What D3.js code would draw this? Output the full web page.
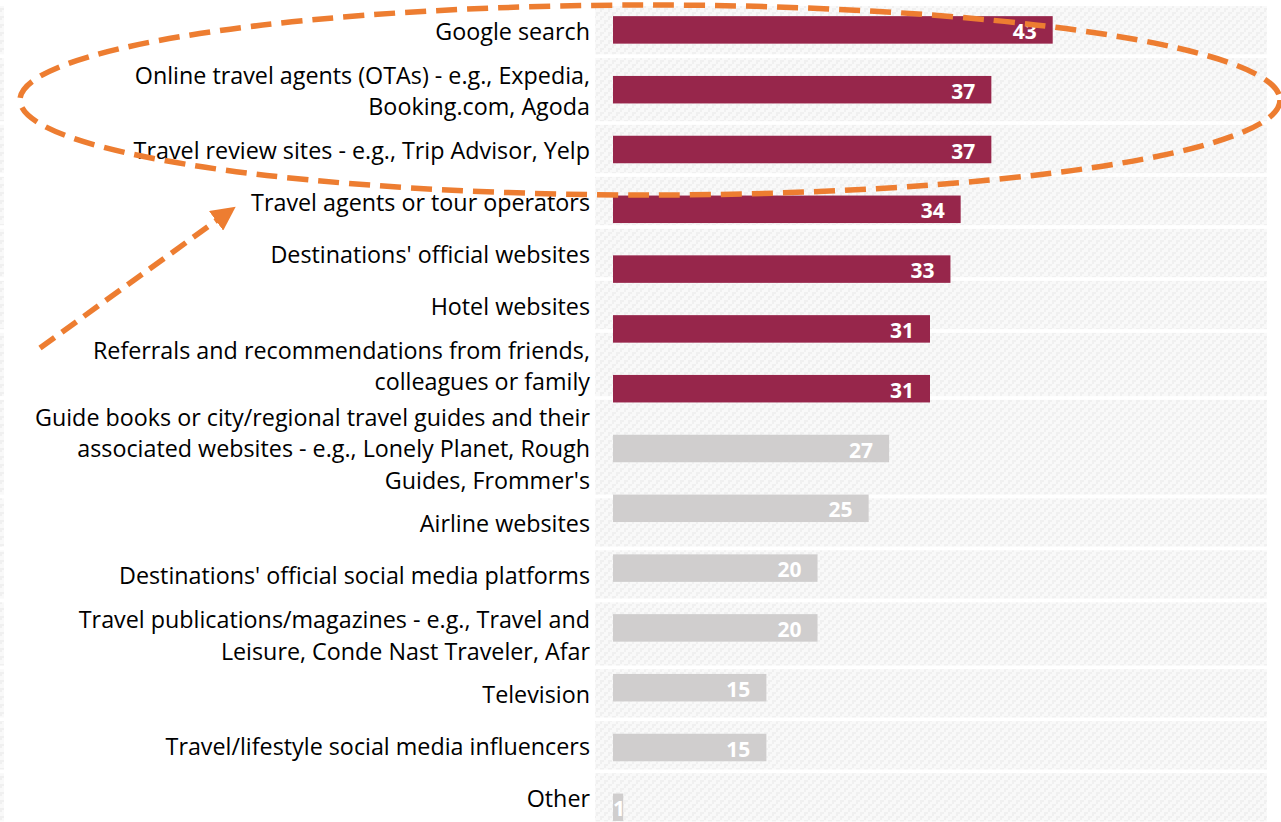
<!DOCTYPE html>
<html><head><meta charset="utf-8">
<script src="https://cdn.jsdelivr.net/npm/d3@7/dist/d3.min.js"></script>
<style>html,body{margin:0;padding:0;background:#fff;}svg{display:block;}</style>
</head><body>
<script>
// ---------- data ----------
const categories = [
  "Google search",
  "Online travel agents (OTAs) - e.g., Expedia, Booking.com, Agoda",
  "Travel review sites - e.g., Trip Advisor, Yelp",
  "Travel agents or tour operators",
  "Destinations' official websites",
  "Hotel websites",
  "Referrals and recommendations from friends, colleagues or family",
  "Guide books or city/regional travel guides and their associated websites - e.g., Lonely Planet, Rough Guides, Frommer's",
  "Airline websites",
  "Destinations' official social media platforms",
  "Travel publications/magazines - e.g., Travel and Leisure, Conde Nast Traveler, Afar",
  "Television",
  "Travel/lifestyle social media influencers",
  "Other"
];
const categoryLines = [
  ["Google search"],
  ["Online travel agents (OTAs) - e.g., Expedia,", "Booking.com, Agoda"],
  ["Travel review sites - e.g., Trip Advisor, Yelp"],
  ["Travel agents or tour operators"],
  ["Destinations' official websites"],
  ["Hotel websites"],
  ["Referrals and recommendations from friends,", "colleagues or family"],
  ["Guide books or city/regional travel guides and their", "associated websites - e.g., Lonely Planet, Rough", "Guides, Frommer's"],
  ["Airline websites"],
  ["Destinations' official social media platforms"],
  ["Travel publications/magazines - e.g., Travel and", "Leisure, Conde Nast Traveler, Afar"],
  ["Television"],
  ["Travel/lifestyle social media influencers"],
  ["Other"]
];
const values = [43, 37, 37, 34, 33, 31, 31, 27, 25, 20, 20, 15, 15, 1];
const highlighted = [true, true, true, true, true, true, true, false, false, false, false, false, false, false];

// ---------- layout ----------
const W = 1281, H = 822;
const colors = { hi: "#97264B", lo: "#D0CECE", text: "#000", orange: "#ED7D31" };
const fontFamily = "'Open Sans', 'Noto Sans', sans-serif";
const labelRight = 590, bandLeft = 595, bandRight = 1267;
const lineH = 31.6, minRowH = 48.3, rowGap = 3.7, tableTop = 6;

const svg = d3.select("body").append("svg").attr("width", W).attr("height", H)
  .style("font-family", fontFamily);
svg.append("rect").attr("width", W).attr("height", H).attr("fill", "#fff");

// dotted background pattern
const defs = svg.append("defs");
const pat = defs.append("pattern").attr("id", "dots").attr("patternUnits", "userSpaceOnUse")
  .attr("width", 8).attr("height", 8);
pat.append("rect").attr("width", 8).attr("height", 8).attr("fill", "#f9f9f9");
[[0,0],[4,4],[2,0],[6,4],[0,2],[4,6]].forEach(([a,b]) =>
  pat.append("rect").attr("x", a).attr("y", b).attr("width", 2).attr("height", 2).attr("fill", "#f0f0f0"));

// scales
const x = d3.scaleLinear().domain([0, 43]).range([613, 1052.7]);
const y = d3.scaleBand().domain(categories).range([0, 837.2]).paddingInner(0.54).paddingOuter(0.27);

// label table rows (heights from number of wrapped lines)
const rows = [];
let cy = tableTop;
categoryLines.forEach((lines, i) => {
  const h = Math.max(minRowH, lines.length * lineH);
  rows.push({ top: cy, h, lines, cat: categories[i] });
  cy += h + rowGap;
});

const bg = svg.append("g");
bg.selectAll("rect.band").data(rows).join("rect").attr("class", "band")
  .attr("x", bandLeft).attr("width", bandRight - bandLeft)
  .attr("y", d => d.top).attr("height", d => d.h).attr("fill", "url(#dots)");
bg.selectAll("rect.edge").data(rows).join("rect").attr("class", "edge")
  .attr("x", 0).attr("width", 4)
  .attr("y", d => d.top).attr("height", d => d.h).attr("fill", "url(#dots)");

// category labels
const lab = svg.append("g").attr("text-anchor", "end").attr("font-size", 23.3).attr("fill", colors.text);
rows.forEach(r => {
  const c = r.top + r.h / 2;
  r.lines.forEach((t, j) => {
    lab.append("text").attr("x", labelRight)
      .attr("y", c + (j - (r.lines.length - 1) / 2) * lineH + 10)
      .text(t);
  });
});

// bars
svg.append("g").selectAll("rect").data(categories).join("rect")
  .attr("x", x(0)).attr("y", d => y(d))
  .attr("width", (d, i) => x(values[i]) - x(0))
  .attr("height", y.bandwidth())
  .attr("fill", (d, i) => highlighted[i] ? colors.hi : colors.lo);

// value labels
svg.append("g").attr("text-anchor", "end").attr("font-size", 21).attr("font-weight", "bold").attr("fill", "#fff")
  .selectAll("text").data(categories).join("text")
  .attr("x", (d, i) => Math.max(x(values[i]) - 16, x(0) + 12))
  .attr("y", d => y(d) + y.bandwidth() / 2 + 9)
  .text((d, i) => values[i]);

// ---------- annotations ----------
const ann = svg.append("g").attr("fill", "none").attr("stroke", colors.orange)
  .attr("stroke-width", 5.5);
ann.append("ellipse").attr("cx", 650).attr("cy", 100).attr("rx", 630).attr("ry", 95)
  .attr("stroke-dasharray", "21 10");
defs.append("marker").attr("id", "arrow").attr("viewBox", "0 0 10 10")
  .attr("refX", 2).attr("refY", 5).attr("markerWidth", 4.4).attr("markerHeight", 4.4)
  .attr("orient", "auto").append("path").attr("d", "M0,0 L10,5 L0,10 z").attr("fill", colors.orange).attr("stroke", "none");
ann.append("line").attr("x1", 40).attr("y1", 348).attr("x2", 220).attr("y2", 218)
  .attr("stroke-dasharray", "18 9").attr("marker-end", "url(#arrow)");
</script>
</body></html>
